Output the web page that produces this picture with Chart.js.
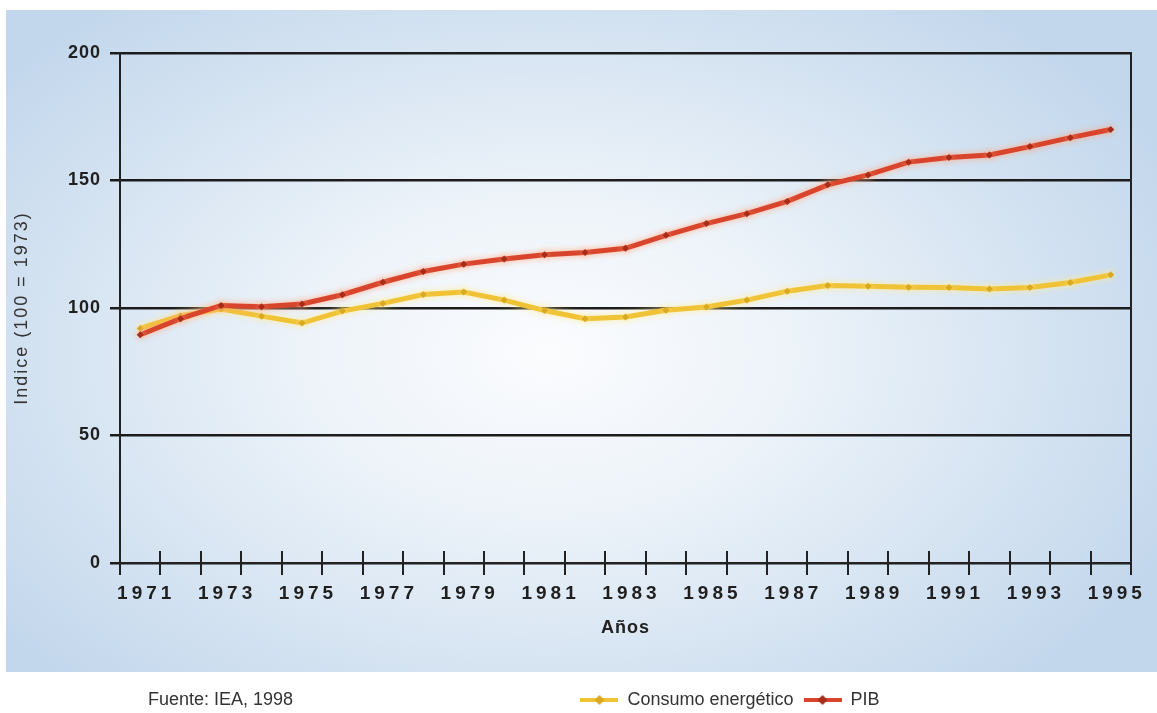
<!DOCTYPE html>
<html>
<head>
<meta charset="utf-8">
<script src="https://cdn.jsdelivr.net/npm/chart.js@4.4.0/dist/chart.umd.min.js"></script>
<style>
  html, body { margin: 0; padding: 0; background: #fff; }
  #wrap { position: relative; width: 1157px; height: 713px; overflow: hidden; }
  #panel {
    position: absolute; left: 6px; top: 10px; width: 1151px; height: 662px;
    background: radial-gradient(ellipse 60% 68% at 47% 52%, #fbfcfe 0%, #edf3f9 35%, #d6e4f2 70%, #c3d7ec 100%);
  }
  #chart { position: absolute; left: 0; top: 0; }
  #source {
    position: absolute; left: 148px; top: 689px;
    font: 18px "Liberation Sans", Arial, sans-serif; color: #333;
  }
</style>
</head>
<body>
<div id="wrap">
  <div id="panel"></div>
  <canvas id="chart" width="1157" height="713"></canvas>
  <div id="source">Fuente: IEA, 1998</div>
</div>
<script>
// datos (indice 1973 = 100)
var years = ['1971', '1972', '1973', '1974', '1975', '1976', '1977', '1978', '1979', '1980',
             '1981', '1982', '1983', '1984', '1985', '1986', '1987', '1988', '1989', '1990',
             '1991', '1992', '1993', '1994', '1995'];
var consumo = [92, 97, 99.6, 96.8, 94.1, 98.8, 101.8, 105.3, 106.3, 103.1,
               99, 95.8, 96.5, 99.1, 100.4, 103.1, 106.6, 108.8, 108.5, 108.1,
               108, 107.5, 108, 110, 113];
var pib = [89.5, 95.8, 101, 100.5, 101.6, 105.2, 110.1, 114.3, 117.2, 119.2,
           120.9, 121.8, 123.4, 128.5, 133.1, 137, 141.8, 148.3, 152.2, 157.2,
           159, 160, 163.3, 166.8, 170];
var yTicks = [0, 50, 100, 150, 200];

Chart.defaults.font.family = '"Liberation Sans", Arial, sans-serif';

// espaciado de letras de los textos de los ejes
var textSpacing = {
  x: { labels: '4px', title: '1px' },
  y: { labels: '1px', title: '2px' }
};

function legendMarker(line, dot) {
  var c = document.createElement('canvas');
  c.width = 38; c.height = 12;
  var g = c.getContext('2d');
  g.strokeStyle = line; g.lineWidth = 4;
  g.beginPath(); g.moveTo(0, 6); g.lineTo(38, 6); g.stroke();
  g.fillStyle = dot;
  g.beginPath(); g.moveTo(19, 1); g.lineTo(24, 6); g.lineTo(19, 11); g.lineTo(14, 6); g.closePath(); g.fill();
  return c;
}
var markers = [legendMarker('#f0c336', '#d9a91f'), legendMarker('#d8452c', '#a82c18')];

var decor = {
  id: 'decor',
  beforeDraw: function (chart) {
    Object.keys(textSpacing).forEach(function (id) {
      var s = chart.scales[id];
      if (!s || s._spaced) return;
      s._spaced = true;
      var drawLabels = s.drawLabels, drawTitle = s.drawTitle;
      s.drawLabels = function (area) {
        var c = this.ctx, old = c.letterSpacing;
        c.letterSpacing = textSpacing[id].labels;
        drawLabels.call(this, area);
        c.letterSpacing = old || '0px';
      };
      s.drawTitle = function (area) {
        var c = this.ctx, old = c.letterSpacing;
        c.letterSpacing = textSpacing[id].title;
        drawTitle.call(this, area);
        c.letterSpacing = old || '0px';
      };
    });
  },
  afterLayout: function (chart) {
    var lg = chart.legend;
    if (!lg) return;
    var dx = 730 - (lg.left + lg.right) / 2;
    lg.left += dx; lg.right += dx;
    lg.top += 6; lg.bottom += 6;
  },
  beforeDatasetsDraw: function (chart) {
    // parte superior de las marcas del eje x (cruzan el eje)
    var x = chart.scales.x, ctx = chart.ctx;
    var half = (x.getPixelForValue(1) - x.getPixelForValue(0)) / 2;
    ctx.save();
    ctx.strokeStyle = '#222';
    ctx.lineWidth = 2;
    ctx.beginPath();
    for (var i = 0; i <= years.length; i++) {
      var px = Math.round(x.getPixelForValue(i) - half);
      ctx.moveTo(px, x.top - 12);
      ctx.lineTo(px, x.top);
    }
    ctx.stroke();
    ctx.restore();
  },
  beforeDatasetDraw: function (chart, args) {
    var ds = chart.data.datasets[args.index];
    chart.ctx.save();
    chart.ctx.shadowColor = ds.glow;
    chart.ctx.shadowBlur = 6;
  },
  afterDatasetDraw: function (chart) {
    chart.ctx.restore();
  }
};

var ctx = document.getElementById('chart').getContext('2d');

var chart = new Chart(ctx, {
  type: 'line',
  data: {
    labels: years,
    datasets: [{
      label: 'Consumo energético',
      data: consumo,
      borderColor: '#f0c336',
      backgroundColor: '#d9a91f',
      glow: 'rgba(255, 235, 150, 0.9)',
      borderWidth: 5,
      pointStyle: 'rectRot',
      pointRadius: 3.5,
      pointBorderWidth: 0,
      tension: 0,
      order: 1
    }, {
      label: 'PIB',
      data: pib,
      borderColor: '#d8452c',
      backgroundColor: '#a82c18',
      glow: 'rgba(255, 170, 130, 0.9)',
      borderWidth: 5,
      pointStyle: 'rectRot',
      pointRadius: 3.5,
      pointBorderWidth: 0,
      tension: 0,
      order: 0
    }]
  },
  options: {
    responsive: false,
    animation: false,
    layout: { padding: { top: 53, right: 26, left: 0, bottom: 0 } },
    plugins: {
      tooltip: { enabled: false },
      legend: {
        position: 'bottom',
        labels: {
          font: { size: 18 },
          color: '#333',
          padding: 10,
          usePointStyle: true,
          pointStyleWidth: 38,
          generateLabels: function (chart) {
            var items = Chart.defaults.plugins.legend.labels.generateLabels(chart);
            items.sort(function (a, b) { return a.datasetIndex - b.datasetIndex; });
            items.forEach(function (it) { it.pointStyle = markers[it.datasetIndex]; });
            return items;
          }
        }
      }
    },
    scales: {
      x: {
        offset: true,
        grid: {
          offset: true,
          drawOnChartArea: false,
          color: '#222',
          lineWidth: 2,
          tickLength: 12
        },
        border: { color: '#222', width: 2 },
        ticks: {
          autoSkip: false,
          maxRotation: 0,
          padding: 7,
          labelOffset: 6,
          color: '#1f1f1f',
          font: { size: 19, weight: 'bold' },
          callback: function (v, i) { return i % 2 === 0 ? years[i] : ''; }
        },
        title: {
          display: true,
          text: 'Años',
          color: '#222',
          font: { size: 18, weight: 'bold' },
          padding: { top: 4, bottom: 36 }
        },
        afterFit: function (s) { s.height = 112; }
      },
      y: {
        min: 0,
        max: 200,
        afterBuildTicks: function (s) {
          s.ticks = yTicks.map(function (v) { return { value: v }; });
        },
        grid: { color: '#1c1c1c', lineWidth: 2.5, tickLength: 10 },
        border: { color: '#222', width: 2 },
        ticks: {
          padding: 9,
          color: '#1f1f1f',
          font: { size: 18, weight: 'bold' }
        },
        title: {
          display: true,
          text: 'Indice (100 = 1973)',
          color: '#333',
          font: { size: 18 },
          padding: { top: 11, bottom: 0 }
        },
        afterFit: function (s) { s.width = 120; }
      },
      yRight: {
        position: 'right',
        min: 0,
        max: 200,
        grid: { display: false, drawTicks: false },
        border: { color: '#222', width: 2 },
        ticks: { display: false },
        afterFit: function (s) { s.width = 0; }
      }
    }
  },
  plugins: [decor]
});
</script>
</body>
</html>
